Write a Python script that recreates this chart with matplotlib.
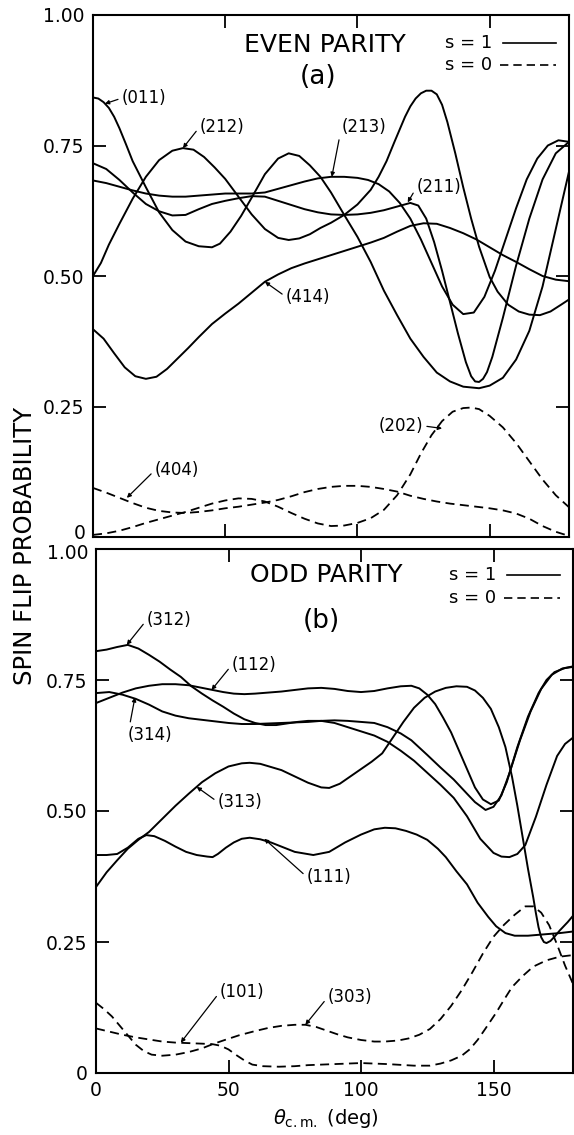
import matplotlib
matplotlib.use("Agg")
import matplotlib.pyplot as plt

plt.rcParams['font.family'] = ['DejaVu Sans']
plt.rcParams['mathtext.fontset'] = 'dejavusans'

# ---------------- (a) even parity ----------------
th_011 = [0, 2, 4, 6, 8, 10, 12.5, 15, 20, 25, 30, 35, 40, 45, 48, 52, 56, 60, 65, 70, 74, 78,
          82, 86, 90, 95, 100, 105, 110, 115, 120, 125, 130, 135, 140, 146, 150, 155, 160, 165,
          170, 175, 180]
p_011 = [0.842, 0.84, 0.833, 0.822, 0.805, 0.783, 0.752, 0.72, 0.67, 0.622, 0.588, 0.566,
         0.557, 0.555, 0.562, 0.585, 0.615, 0.65, 0.695, 0.725, 0.735, 0.73, 0.712, 0.69, 0.66,
         0.617, 0.575, 0.527, 0.472, 0.425, 0.38, 0.345, 0.315, 0.298, 0.288, 0.285, 0.29,
         0.305, 0.34, 0.395, 0.48, 0.59, 0.70]

th_212 = [0, 3, 6, 10, 15, 20, 25, 30, 34, 38, 42, 46, 50, 55, 60, 65, 70, 74, 78, 82, 86, 90,
          95, 100, 105, 108, 111, 114, 118, 120, 122, 124, 126, 128, 130, 132, 134, 137, 140,
          143, 146, 150, 153, 157, 161, 165, 169, 173, 177, 180]
p_212 = [0.50, 0.525, 0.56, 0.60, 0.648, 0.69, 0.722, 0.74, 0.745, 0.742, 0.728, 0.708, 0.686,
         0.652, 0.618, 0.59, 0.573, 0.569, 0.572, 0.58, 0.592, 0.602, 0.617, 0.637, 0.665, 0.69,
         0.72, 0.757, 0.805, 0.825, 0.84, 0.85, 0.855, 0.855, 0.848, 0.828, 0.795, 0.735, 0.67,
         0.61, 0.556, 0.498, 0.47, 0.445, 0.432, 0.426, 0.425, 0.432, 0.445, 0.455]

th_213 = [0, 5, 10, 15, 20, 25, 30, 35, 40, 45, 50, 55, 60, 65, 70, 75, 80, 85, 90, 95, 100,
          104, 108, 112, 116, 120, 124, 128, 132, 136, 140, 144, 148, 152, 156, 160, 164, 168,
          172, 176, 180]
p_213 = [0.683, 0.678, 0.671, 0.664, 0.658, 0.654, 0.652, 0.652, 0.654, 0.656, 0.658, 0.658,
         0.658, 0.66, 0.667, 0.674, 0.681, 0.687, 0.69, 0.69, 0.688, 0.684, 0.676, 0.662, 0.64,
         0.61, 0.57, 0.525, 0.48, 0.445, 0.427, 0.43, 0.46, 0.51, 0.57, 0.63, 0.685, 0.725, 0.75,
         0.76, 0.757]

th_211 = [0, 5, 10, 15, 20, 25, 30, 35, 40, 45, 50, 55, 60, 65, 70, 75, 80, 85, 90, 95, 100,
          105, 110, 115, 120, 123, 126, 129, 132, 135, 138, 141, 143, 144.5, 146, 147.5, 149,
          151, 155, 160, 165, 170, 175, 180]
p_211 = [0.716, 0.705, 0.684, 0.66, 0.638, 0.624, 0.616, 0.617, 0.628, 0.638, 0.644, 0.649,
         0.653, 0.652, 0.644, 0.636, 0.628, 0.622, 0.618, 0.617, 0.618, 0.621, 0.626, 0.633,
         0.64, 0.635, 0.61, 0.565, 0.51, 0.45, 0.39, 0.335, 0.308, 0.298, 0.297, 0.303, 0.316,
         0.345, 0.42, 0.52, 0.61, 0.685, 0.735, 0.757]

th_414 = [0, 4, 8, 12, 16, 20, 24, 28, 32, 36, 40, 45, 50, 55, 60, 65, 70, 75, 80, 85, 90, 95,
          100, 105, 110, 115, 120, 125, 130, 135, 140, 145, 150, 155, 160, 165, 170, 175, 180]
p_414 = [0.398, 0.38, 0.352, 0.325, 0.308, 0.303, 0.307, 0.322, 0.342, 0.362, 0.383, 0.408,
         0.428, 0.447, 0.468, 0.489, 0.503, 0.515, 0.524, 0.532, 0.54, 0.548, 0.556, 0.564,
         0.573, 0.585, 0.596, 0.601, 0.6, 0.592, 0.582, 0.57, 0.555, 0.54, 0.527, 0.513, 0.5,
         0.493, 0.49]

th_404 = [0, 5, 10, 15, 20, 25, 30, 35, 40, 45, 50, 55, 60, 65, 70, 75, 80, 85, 90, 95, 100,
          105, 110, 115, 120, 125, 130, 135, 140, 145, 150, 155, 160, 165, 170, 175, 180]
p_404 = [0.094, 0.085, 0.075, 0.065, 0.056, 0.05, 0.047, 0.046, 0.048, 0.051, 0.055, 0.058,
         0.062, 0.066, 0.071, 0.078, 0.086, 0.092, 0.096, 0.098, 0.098, 0.096, 0.092, 0.087,
         0.079, 0.073, 0.068, 0.064, 0.061, 0.058, 0.055, 0.051, 0.045, 0.035, 0.021, 0.01, 0.002]

th_202 = [0, 5, 10, 15, 20, 25, 30, 35, 40, 45, 50, 55, 60, 65, 70, 75, 80, 85, 90, 95, 100,
          105, 110, 115, 120, 124, 128, 132, 136, 140, 143, 146, 150, 155, 160, 165, 170, 175, 180]
p_202 = [0.004, 0.007, 0.012, 0.019, 0.027, 0.034, 0.041, 0.048, 0.056, 0.064, 0.07, 0.074,
         0.073, 0.068, 0.058, 0.046, 0.035, 0.026, 0.021, 0.022, 0.027, 0.036, 0.052, 0.08, 0.12,
         0.16, 0.195, 0.222, 0.24, 0.247, 0.248, 0.245, 0.232, 0.21, 0.18, 0.145, 0.11, 0.08, 0.057]

# ---------------- (b) odd parity ----------------
th_312 = [0, 4, 8, 12, 16, 20, 24, 28, 32, 36, 40, 44, 48, 52, 56, 60, 64, 68, 72, 76, 80, 85,
          90, 95, 100, 105, 110, 115, 120, 125, 130, 135, 140, 145, 150, 153, 156, 159, 162, 166,
          170, 174, 177, 180]
p_312 = [0.805, 0.808, 0.813, 0.817, 0.81, 0.798, 0.785, 0.77, 0.756, 0.738, 0.724, 0.711,
         0.699, 0.686, 0.675, 0.668, 0.664, 0.664, 0.667, 0.67, 0.672, 0.672, 0.668, 0.66, 0.652,
         0.644, 0.632, 0.615, 0.596, 0.573, 0.55, 0.525, 0.49, 0.447, 0.42, 0.413, 0.412, 0.418,
         0.435, 0.489, 0.55, 0.605, 0.628, 0.64]

th_112 = [0, 5, 10, 15, 20, 25, 30, 35, 40, 44, 48, 52, 56, 60, 65, 70, 75, 80, 85, 90, 95, 100,
          105, 110, 115, 119, 122, 125, 128, 131, 134, 137, 140, 143, 146, 149, 152, 155, 159,
          163, 167, 170, 173, 177, 180]
p_112 = [0.706, 0.716, 0.726, 0.734, 0.739, 0.742, 0.742, 0.74, 0.735, 0.731, 0.727, 0.724,
         0.723, 0.724, 0.726, 0.728, 0.731, 0.734, 0.735, 0.733, 0.729, 0.727, 0.729, 0.734,
         0.738, 0.739, 0.734, 0.722, 0.704, 0.678, 0.65, 0.615, 0.58, 0.545, 0.522, 0.513, 0.52,
         0.555, 0.622, 0.68, 0.725, 0.75, 0.765, 0.773, 0.776]

th_314 = [0, 5, 10, 15, 20, 25, 30, 35, 40, 45, 50, 55, 60, 65, 70, 75, 80, 85, 90, 95, 100,
          105, 110, 115, 119, 125, 130, 135, 140, 143, 147, 150, 153, 156, 160, 164, 168, 172,
          176, 180]
p_314 = [0.725, 0.727, 0.722, 0.714, 0.703, 0.69, 0.682, 0.677, 0.674, 0.671, 0.668, 0.666,
         0.666, 0.667, 0.668, 0.669, 0.67, 0.672, 0.673, 0.672, 0.67, 0.668, 0.66, 0.648, 0.635,
         0.607, 0.583, 0.56, 0.533, 0.517, 0.502, 0.508, 0.53, 0.572, 0.635, 0.69, 0.733, 0.76,
         0.772, 0.775]

th_313 = [0, 4, 8, 12, 16, 20, 25, 30, 35, 40, 45, 50, 55, 58, 62, 66, 70, 75, 80, 85, 88, 92,
          96, 100, 104, 108, 112, 116, 120, 124, 128, 132, 136, 140, 143, 146, 149, 152, 154.5,
          157, 159, 161, 163, 165, 166, 167, 168, 169, 170, 171.5, 173, 175, 178, 180]
p_313 = [0.355, 0.383, 0.406, 0.428, 0.445, 0.46, 0.485, 0.51, 0.533, 0.555, 0.572, 0.585,
         0.591, 0.592, 0.59, 0.584, 0.578, 0.566, 0.554, 0.545, 0.544, 0.552, 0.566, 0.58, 0.594,
         0.61, 0.64, 0.67, 0.697, 0.716, 0.728, 0.735, 0.738, 0.737, 0.73, 0.716, 0.695, 0.66,
         0.622, 0.565, 0.51, 0.45, 0.39, 0.335, 0.305, 0.278, 0.259, 0.25, 0.248, 0.252, 0.26,
         0.272, 0.288, 0.30]

th_111 = [0, 4, 8, 12, 16, 19, 22, 26, 30, 34, 38, 42, 44, 46, 49, 52, 55, 58, 62, 66, 70, 75,
          82, 88, 94, 100, 105, 109, 113, 117, 121, 125, 129, 132, 136, 140, 144, 148, 151,
          154.5, 158, 163, 170, 175, 180]
p_111 = [0.416, 0.416, 0.418, 0.43, 0.447, 0.454, 0.452, 0.443, 0.432, 0.422, 0.416, 0.413,
         0.412, 0.418, 0.43, 0.44, 0.447, 0.449, 0.446, 0.44, 0.432, 0.422, 0.416, 0.422, 0.44,
         0.455, 0.465, 0.468, 0.467, 0.462, 0.455, 0.445, 0.428, 0.412, 0.385, 0.36, 0.325,
         0.298, 0.28, 0.267, 0.262, 0.262, 0.265, 0.267, 0.27]

th_101 = [0, 5, 10, 15, 20, 25, 30, 35, 40, 44, 47, 50, 53, 56, 59, 63, 69, 75, 80, 90, 100,
          110, 120, 126, 130, 134, 138, 141, 144, 147, 151, 154, 157, 161, 165, 170, 175, 180]
p_101 = [0.085, 0.079, 0.073, 0.068, 0.064, 0.06, 0.058, 0.057, 0.056, 0.055, 0.052, 0.045,
         0.034, 0.024, 0.016, 0.013, 0.012, 0.013, 0.015, 0.017, 0.019, 0.017, 0.014, 0.014,
         0.018, 0.024, 0.033, 0.045, 0.063, 0.085, 0.115, 0.14, 0.164, 0.185, 0.203, 0.215,
         0.222, 0.225]

th_303 = [0, 3, 6, 9, 12, 15, 18, 21, 25, 30, 35, 40, 44, 48, 54, 60, 65, 70, 75, 79, 83, 87,
          91, 95, 100, 105, 109, 114, 118, 122, 126, 130, 134, 138, 142, 146, 150, 154, 158,
          162, 165, 168, 171, 174, 177, 180]
p_303 = [0.134, 0.122, 0.108, 0.09, 0.072, 0.054, 0.042, 0.035, 0.033, 0.035, 0.04, 0.047,
         0.055, 0.062, 0.072, 0.08, 0.086, 0.09, 0.092, 0.092, 0.088, 0.081, 0.074, 0.068, 0.063,
         0.06, 0.06, 0.062, 0.066, 0.073, 0.084, 0.103, 0.128, 0.158, 0.192, 0.228, 0.26, 0.283,
         0.302, 0.318, 0.318, 0.306, 0.282, 0.245, 0.205, 0.17]

y_ticks = [0, 0.25, 0.5, 0.75, 1.0]
y_ticklabels = ["0", "0.25", "0.50", "0.75", "1.00"]
x_ticks = [0, 50, 100, 150]
x_ticklabels = ["0", "50", "100", "150"]

DASH = (0, (5, 3))
LW = 1.4
TICK_FS = 13.5

panels = [
    dict(title="EVEN PARITY", tag="(a)",
         solid=[("(011)", th_011, p_011), ("(212)", th_212, p_212), ("(213)", th_213, p_213),
                ("(211)", th_211, p_211), ("(414)", th_414, p_414)],
         dashed=[("(404)", th_404, p_404), ("(202)", th_202, p_202)],
         # label, text anchor (theta, P), arrow tip (theta, P), side of text the leader leaves
         notes=[("(011)", (11, 0.841), (4.5, 0.83), "left"),
                ("(212)", (40.4, 0.786), (34, 0.745), "left"),
                ("(213)", (94, 0.786), (90.3, 0.69), "left"),
                ("(211)", (122.4, 0.67), (119, 0.641), "left"),
                ("(414)", (73, 0.46), (65, 0.489), "left"),
                ("(404)", (23.4, 0.128), (12.8, 0.075), "left"),
                ("(202)", (124.7, 0.213), (132, 0.208), "right")],
         title_xy=(87.7, 0.943), tag_xy=(85, 0.881), legend_y=(0.946, 0.904),
         rect=[93 / 574, (1135 - 537) / 1135, 476 / 574, 522 / 1135], xlabels=False,
         # tick value whose label is nudged (points) to keep clear of the other panel
         nudge=(0.0, 2.5)),
    dict(title="ODD PARITY", tag="(b)",
         solid=[("(312)", th_312, p_312), ("(112)", th_112, p_112), ("(314)", th_314, p_314),
                ("(313)", th_313, p_313), ("(111)", th_111, p_111)],
         dashed=[("(101)", th_101, p_101), ("(303)", th_303, p_303)],
         notes=[("(312)", (19.2, 0.865), (11.6, 0.817), "left"),
                ("(112)", (51.3, 0.779), (43.6, 0.731), "left"),
                ("(314)", (12, 0.645), (14.7, 0.717), "left"),
                ("(313)", (46, 0.517), (38, 0.546), "left"),
                ("(111)", (79.6, 0.374), (63.5, 0.447), "left"),
                ("(101)", (46.8, 0.155), (32, 0.058), "left"),
                ("(303)", (87.5, 0.145), (79, 0.092), "left")],
         title_xy=(86.8, 0.95), tag_xy=(85, 0.862), legend_y=(0.95, 0.906),
         rect=[96 / 574, (1135 - 1073) / 1135, 477 / 574, 524 / 1135], xlabels=True,
         nudge=(1.0, -3.5)),
]

fig = plt.figure(figsize=(5.74, 11.35), dpi=100)

for pn in panels:
    ax = fig.add_axes(pn["rect"])
    for name, th, p in pn["solid"]:
        ax.plot(th, p, color="black", lw=LW, solid_joinstyle="round")
    for name, th, p in pn["dashed"]:
        ax.plot(th, p, color="black", lw=1.3, linestyle=DASH)

    ax.set_xlim(0, 180)
    ax.set_ylim(0, 1)
    ax.set_xticks(x_ticks)
    ax.set_yticks(y_ticks)

    # the label next to the neighbouring panel is placed by hand with a small offset
    nudge_val, nudge_pts = pn["nudge"]
    ax.set_yticklabels(["" if v == nudge_val else s for v, s in zip(y_ticks, y_ticklabels)])
    ax.annotate(y_ticklabels[y_ticks.index(nudge_val)], xy=(0, nudge_val),
                xycoords=("axes fraction", "data"), xytext=(-5.5, nudge_pts),
                textcoords="offset points", ha="right", va="center", fontsize=TICK_FS)

    if pn["xlabels"]:
        ax.set_xticklabels(x_ticklabels)
    else:
        ax.set_xticklabels([])
    ax.tick_params(direction="in", length=9.5, width=1.3, top=True, right=True,
                   labelsize=TICK_FS, pad=6)
    for sp in ax.spines.values():
        sp.set_linewidth(1.5)

    ax.text(*pn["title_xy"], pn["title"], ha="center", va="center", fontsize=18)
    ax.text(*pn["tag_xy"], pn["tag"], ha="center", va="center", fontsize=19)

    # s = 1 / s = 0 key
    y1, y0 = pn["legend_y"]
    ax.text(151, y1, "s = 1", ha="right", va="center", fontsize=13)
    ax.text(151, y0, "s = 0", ha="right", va="center", fontsize=13)
    ax.plot([155, 175], [y1, y1], color="black", lw=1.2)
    ax.plot([154, 175], [y0, y0], color="black", lw=1.2, linestyle=DASH)

    for label, txy, tip, side in pn["notes"]:
        relpos = (0.0, 0.5) if side == "left" else (1.0, 0.5)
        ha = "left" if side == "left" else "right"
        ax.annotate(label, xy=tip, xytext=txy, ha=ha, va="center", fontsize=12,
                    arrowprops=dict(arrowstyle="-|>", lw=0.9, color="black",
                                    mutation_scale=6, relpos=relpos,
                                    shrinkA=1, shrinkB=0))

fig.text(25 / 574, 1 - 546 / 1135, "SPIN FLIP PROBABILITY", rotation=90,
         ha="center", va="center", fontsize=17.5)
fig.text(326 / 574, 1 - 1119 / 1135, r"$\theta_{\mathrm{c.m.}}$ (deg)",
         ha="center", va="center", fontsize=14)

fig.savefig("out.png", dpi=100, facecolor="white")
